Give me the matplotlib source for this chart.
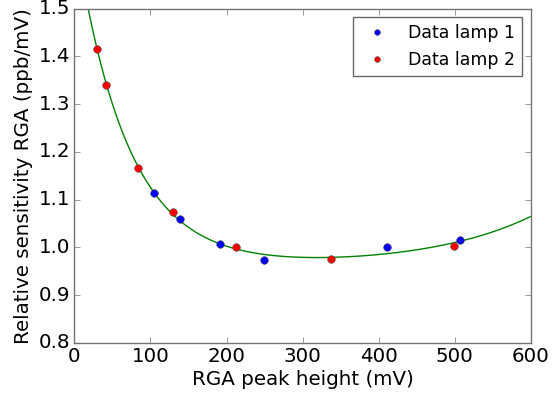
import numpy as np
import matplotlib
matplotlib.use("Agg")
import matplotlib.pyplot as plt

plt.style.use("classic")

# lamp 1 (blue)
peak_lamp1 = [105, 139, 191, 249, 411, 507]
sens_lamp1 = [1.113, 1.059, 1.007, 0.973, 1.001, 1.015]

# lamp 2 (red)
peak_lamp2 = [30, 42, 84, 129, 213, 337, 499]
sens_lamp2 = [1.416, 1.341, 1.166, 1.074, 1.001, 0.975, 1.003]

# fit a + b*exp(-x/tau1) + c*exp(x/tau2) through both lamps
tau2 = 138.0
all_x = np.array(peak_lamp1 + peak_lamp2, dtype=float)
all_y = np.array(sens_lamp1 + sens_lamp2)
best = None
for tau1 in np.arange(20, 200, 0.5):
    A = np.column_stack([np.ones_like(all_x), np.exp(-all_x / tau1), np.exp(all_x / tau2)])
    p = np.linalg.lstsq(A, all_y, rcond=None)[0]
    err = np.sum((A @ p - all_y)**2)
    if best is None or err < best[0]:
        best = (err, tau1, p)
_, tau1, p = best
xfit = np.linspace(1, 600, 600)
yfit = p[0] + p[1] * np.exp(-xfit / tau1) + p[2] * np.exp(xfit / tau2)

fig = plt.figure(figsize=(5.59, 3.96), dpi=100)
ax = fig.add_axes([0.133, 0.134, 0.817, 0.844])

ax.plot(xfit, yfit, 'g-', lw=1)
ax.plot(peak_lamp1, sens_lamp1, 'bo', ms=5.5, mew=0.4, mec='0.3', label='Data lamp 1')
ax.plot(peak_lamp2, sens_lamp2, 'ro', ms=5.5, mew=0.4, mec='0.3', label='Data lamp 2')

ax.set_xlim(0, 600)
ax.set_ylim(0.8, 1.5)
ax.set_xlabel('RGA peak height (mV)', fontsize=14.3, labelpad=3)
ax.set_ylabel('Relative sensitivity RGA (ppb/mV)', fontsize=14.3, labelpad=4)
ax.tick_params(labelsize=14.3, pad=3, color='0.45')
for s in ax.spines.values():
    s.set_color('0.45')
leg = ax.legend(loc='upper right', numpoints=1, fontsize=12.5, markerscale=0.75)
leg.get_frame().set_edgecolor('0.4')

fig.savefig('out.png', dpi=100)
